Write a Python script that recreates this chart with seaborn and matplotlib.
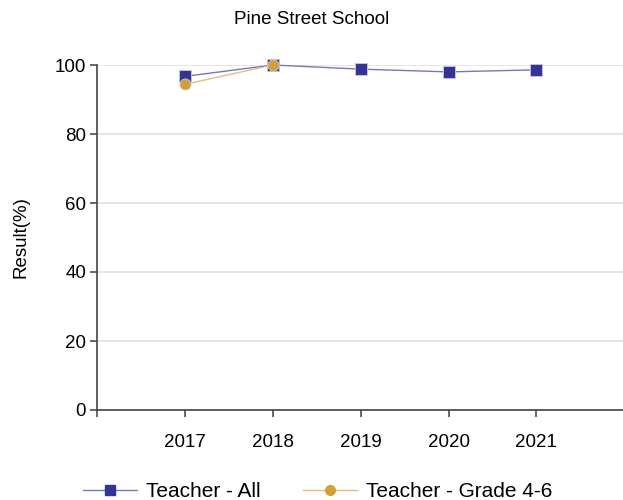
import numpy as np
import pandas as pd
import matplotlib
matplotlib.use("Agg")
import matplotlib.pyplot as plt
import seaborn as sns

sns.set_theme(style="white")
plt.rcParams['font.family'] = ['Liberation Sans', 'DejaVu Sans']
plt.rcParams['text.color'] = 'black'
plt.rcParams['axes.labelcolor'] = 'black'
plt.rcParams['xtick.color'] = 'black'
plt.rcParams['ytick.color'] = 'black'

# ---- data ----
years_all = [2017, 2018, 2019, 2020, 2021]
teacher_all = [96.7, 100.0, 98.8, 98.0, 98.6]
years_g46 = [2017, 2018]
teacher_g46 = [94.4, 100.0]

df = pd.concat([
    pd.DataFrame({"Year": years_all, "Result": teacher_all, "Series": "Teacher - All"}),
    pd.DataFrame({"Year": years_g46, "Result": teacher_g46, "Series": "Teacher - Grade 4-6"}),
])

names = ["Teacher - All", "Teacher - Grade 4-6"]
colors = {"Teacher - All": "#333399", "Teacher - Grade 4-6": "#D4A030"}
line_colors = {"Teacher - All": "#7777c0", "Teacher - Grade 4-6": "#e2bf78"}
markers = {"Teacher - All": "s", "Teacher - Grade 4-6": "o"}

fig = plt.figure(figsize=(6.23, 5), dpi=100)
ax = fig.add_axes([0.156, 0.18, 0.846, 0.69])

sns.lineplot(data=df, x="Year", y="Result", hue="Series", style="Series",
             palette=colors, markers=markers, dashes=False, markersize=8,
             linewidth=1.0, markeredgewidth=0.6, markeredgecolor="#c8c8e0",
             ax=ax, legend=False)

# lighter connecting lines, solid markers, markers may sit on the top edge
for line, k in zip(ax.lines, names):
    line.set_color(line_colors[k])
    line.set_markerfacecolor(colors[k])
    line.set_clip_on(False)
    line.set_zorder(3)

ax.set_xlim(2016, 2022)
ax.set_ylim(0, 100)
ax.set_xticks([2016, 2017, 2018, 2019, 2020, 2021])
ax.set_xticklabels(["", "2017", "2018", "2019", "2020", "2021"])
ax.set_yticks([0, 20, 40, 60, 80, 100])
ax.yaxis.grid(True, color="#e0e0e0", linewidth=1.2)
ax.set_axisbelow(True)
ax.tick_params(axis="both", labelsize=13.5, length=5, color="#555555",
               direction="out", bottom=True, left=True)
ax.tick_params(axis="x", pad=12)
ax.tick_params(axis="y", pad=3)
for s in ["top", "right"]:
    ax.spines[s].set_visible(False)
for s in ["left", "bottom"]:
    ax.spines[s].set_color("#444444")
    ax.spines[s].set_linewidth(1.2)

ax.set_xlabel("")
ax.set_ylabel("Result(%)", fontsize=13.5, labelpad=18)
fig.suptitle("Pine Street School", fontsize=13.5, y=0.978)

handles = [
    plt.Line2D([], [], color=line_colors[k], marker=markers[k], markersize=7,
               markerfacecolor=colors[k], markeredgecolor=colors[k],
               linewidth=1.0, label=k)
    for k in names
]
fig.legend(handles=handles, loc="lower center", ncol=2, frameon=False,
           fontsize=15, bbox_to_anchor=(0.51, -0.04), columnspacing=2.0,
           handlelength=2.6, handletextpad=0.45)

fig.savefig("out.png", dpi=100)
